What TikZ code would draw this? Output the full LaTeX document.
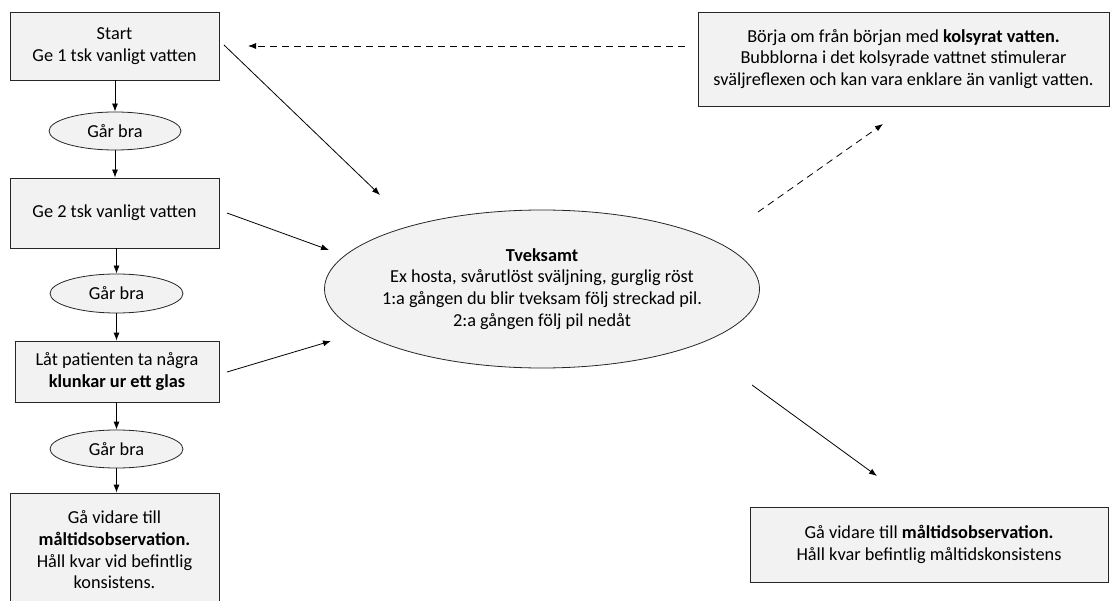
\documentclass[tikz,border=0pt]{standalone}
\usepackage{fontspec}
\setmainfont{Carlito}
\usetikzlibrary{shapes.geometric,arrows.meta}
\definecolor{boxgray}{HTML}{F2F2F2}
\definecolor{linegray}{HTML}{262626}
\begin{document}
\begin{tikzpicture}[x=1pt,y=-1pt,
  font=\fontsize{18.3}{21.7}\selectfont,
  box/.style={draw=linegray, fill=boxgray, line width=0.8pt, rectangle, align=center, inner sep=0pt},
  oval/.style={draw=linegray, fill=boxgray, line width=0.8pt, ellipse, align=center, inner sep=0pt},
  plain/.style={align=center, inner sep=0pt},
  arr/.style={draw=black, line width=0.8pt, -{Latex[length=8pt,width=6pt]}},
  darr/.style={arr, dash pattern=on 7pt off 5pt}]
\useasboundingbox (0,0) rectangle (1110,601);
% left column
\node[box, minimum width=209pt, minimum height=68pt] (b1) at (114.5,46) {Start\\Ge 1 tsk vanligt vatten};
\node[oval, minimum width=132pt, minimum height=38pt] (e1) at (115,131) {Går bra};
\node[box, minimum width=209pt, minimum height=70pt] (b2) at (114.5,213) {Ge 2 tsk vanligt vatten};
\node[oval, minimum width=133pt, minimum height=39pt] (e2) at (116.5,293.5) {Går bra};
\node[box, minimum width=204pt, minimum height=61pt] (b3) at (117,371.5) {Låt patienten ta några\\\textbf{klunkar ur ett glas}};
\node[oval, minimum width=133pt, minimum height=38pt] (e3) at (116.5,449) {Går bra};
\node[box, minimum width=209pt, minimum height=114pt] (b4) at (114.5,550) {Gå vidare till\\\textbf{måltidsobservation.}\\Håll kvar vid befintlig\\konsistens.};
% centre
\node[oval, minimum width=435pt, minimum height=158pt] (big) at (542,289) {};
\node[plain] (bigtext) at (big.center) {\textbf{Tveksamt}\\Ex hosta, svårutlöst sväljning, gurglig röst\\1:a gången du blir tveksam följ streckad pil.\\2:a gången följ pil nedåt};
% right
\node[box, minimum width=411pt, minimum height=94pt] (tr) at (903.5,59) {Börja om från början med \textbf{kolsyrat vatten.}\\Bubblorna i det kolsyrade vattnet stimulerar\\sväljreflexen och kan vara enklare än vanligt vatten.};
\node[box, minimum width=358pt, minimum height=75pt] (br) at (929,544.5) {Gå vidare till \textbf{måltidsobservation.}\\Håll kvar befintlig måltidskonsistens};
% vertical arrows
\draw[arr] (b1.south -| e1.north) -- (e1.north);
\draw[arr] (e1.south) -- (e1.south |- b2.north);
\draw[arr] (b2.south -| e2.north) -- (e2.north);
\draw[arr] (e2.south) -- (e2.south |- b3.north);
\draw[arr] (b3.south -| e3.north) -- (e3.north);
\draw[arr] (e3.south) -- (e3.south |- b4.north);
% free-end coordinates
\coordinate (s1) at (224,45);
\coordinate (t1) at (380,195);
\coordinate (s2) at (227,213);
\coordinate (t2) at (329,250);
\coordinate (s3) at (227,372);
\coordinate (t3) at (331,341);
\coordinate (s4) at (758,212);
\coordinate (t4) at (883,124);
\coordinate (s5) at (685,46);
\coordinate (t5) at (248,46);
\coordinate (s6) at (752,385);
\coordinate (t6) at (877,476);
\draw[arr] (s1) -- (t1);
\draw[arr] (s2) -- (t2);
\draw[arr] (s3) -- (t3);
\draw[darr] (s4) -- (t4);
\draw[darr] (s5) -- (t5);
\draw[arr] (s6) -- (t6);
\end{tikzpicture}
\end{document}
